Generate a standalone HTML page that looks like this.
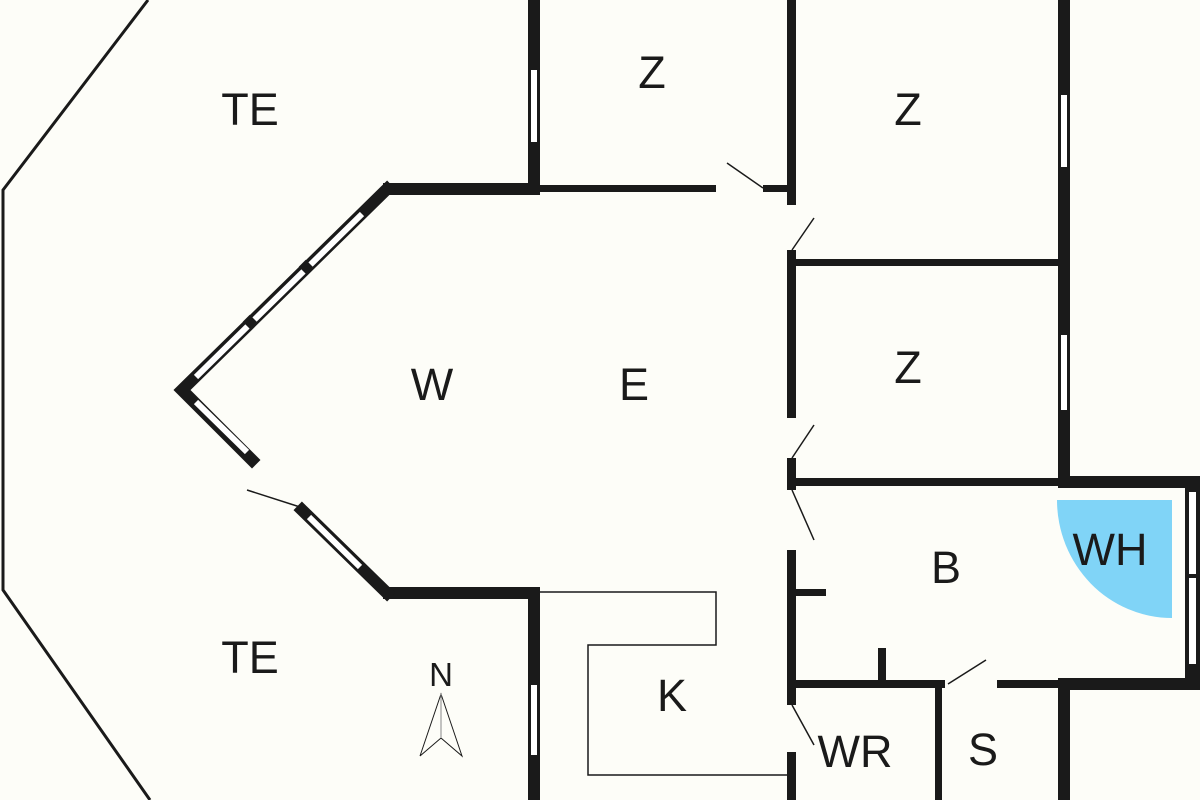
<!DOCTYPE html>
<html><head><meta charset="utf-8"><style>
html,body{margin:0;padding:0;background:#fdfdf8;}
svg{display:block}
text{font-family:"Liberation Sans",sans-serif;fill:#1a1a1a;text-anchor:middle}
</style></head><body>
<svg width="1200" height="800" viewBox="0 0 1200 800" xmlns="http://www.w3.org/2000/svg">
<rect width="1200" height="800" fill="#fdfdf8"/>
<polyline points="148,0 3,190 3,590 150,800" fill="none" stroke="#1a1a1a" stroke-width="3"/>
<path d="M1172,500 L1057,500 A115,118 0 0 0 1172,618 Z" fill="#80d4f7"/>
<g fill="#1a1a1a">
<rect x="528" y="0" width="12" height="195"/>
<rect x="383" y="183" width="157" height="12"/>
<rect x="540" y="185" width="176" height="7"/>
<rect x="763" y="185" width="30" height="7"/>
<rect x="787" y="0" width="9" height="205"/>
<rect x="787" y="250" width="9" height="168"/>
<rect x="787" y="458" width="9" height="32"/>
<rect x="787" y="550" width="9" height="155"/>
<rect x="787" y="752" width="9" height="48"/>
<rect x="792" y="589" width="34" height="7"/>
<rect x="1058" y="0" width="12" height="488"/>
<rect x="790" y="259" width="270" height="7"/>
<rect x="790" y="478" width="270" height="8"/>
<rect x="1058" y="476" width="142" height="12"/>
<rect x="1185" y="476" width="15" height="214"/>
<rect x="1058" y="678" width="142" height="12"/>
<rect x="1058" y="678" width="12" height="122"/>
<rect x="790" y="680" width="155" height="8"/>
<rect x="997" y="680" width="63" height="8"/>
<rect x="878" y="648" width="8" height="35"/>
<rect x="935" y="684" width="7" height="116"/>
<rect x="383" y="587" width="157" height="12"/>
<rect x="528" y="587" width="12" height="213"/>
</g>
<g fill="#fff">
<rect x="531" y="70" width="6" height="72"/>
<rect x="1061" y="95" width="6" height="72"/>
<rect x="1061" y="335" width="6" height="75"/>
<rect x="1189" y="492" width="7" height="82"/>
<rect x="1189" y="578" width="7" height="86"/>
<rect x="531" y="685" width="6" height="70"/>
</g>
<g stroke="#1a1a1a" stroke-width="12" stroke-linecap="square" fill="none">
<polyline points="387,189 182,390 252,460"/>
<polyline points="302,510 387,593"/>
</g>
<g stroke="#fff" stroke-width="6" fill="none">
<line x1="362" y1="214" x2="196" y2="377"/>
<line x1="196" y1="402" x2="247" y2="452"/>
<line x1="309" y1="517" x2="360" y2="567"/>
</g>
<g stroke="#1a1a1a" stroke-width="12" fill="none">
<line x1="310" y1="264" x2="303" y2="271"/>
<line x1="254" y1="319" x2="247" y2="326"/>
</g>
<g stroke="#1a1a1a" stroke-width="1.5" fill="none">
<line x1="763" y1="188" x2="727" y2="163"/>
<line x1="792" y1="250" x2="814" y2="218"/>
<line x1="792" y1="458" x2="814" y2="425"/>
<line x1="792" y1="490" x2="814" y2="540"/>
<line x1="792" y1="705" x2="814" y2="745"/>
<line x1="948" y1="684" x2="986" y2="660"/>
<line x1="300" y1="507" x2="247" y2="490"/>
</g>
<polyline points="540,592 716,592 716,645 588,645 588,775 790,775" fill="none" stroke="#1a1a1a" stroke-width="1.5"/>
<g stroke="#1a1a1a" stroke-width="1" fill="none">
<polyline points="420,756 441,694 462,756 441,738 420,756"/>
<line x1="441" y1="694" x2="441" y2="738" stroke="#888"/>
</g>
<g font-size="45">
<text x="250" y="125">TE</text>
<text x="652" y="88">Z</text>
<text x="908" y="125">Z</text>
<text x="908" y="383">Z</text>
<text x="432" y="400">W</text>
<text x="634" y="400">E</text>
<text x="946" y="583">B</text>
<text x="1110" y="565">WH</text>
<text x="250" y="673">TE</text>
<text x="672" y="711">K</text>
<text x="855" y="767">WR</text>
<text x="983" y="765">S</text>
</g>
<text x="441" y="686" font-size="33">N</text>
</svg>
</body></html>
